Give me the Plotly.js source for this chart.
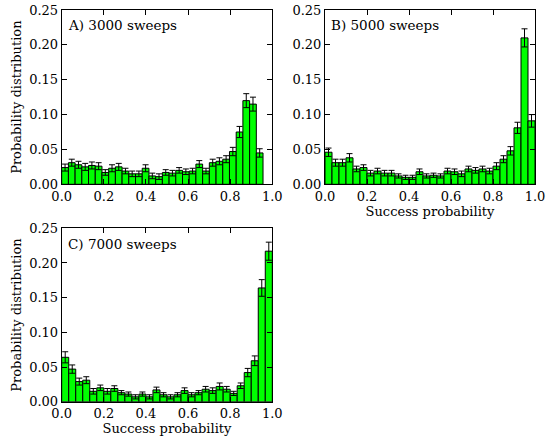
<!DOCTYPE html>
<html>
<head>
<meta charset="utf-8">
<script src="https://cdn.plot.ly/plotly-3.0.1.min.js"></script>
<style>html,body{margin:0;padding:0;background:#fff;}#chart{width:549px;height:436px;}</style>
</head>
<body>
<div id="chart"></div>
<script>
// Panel labels
const panelLabels = ["A) 3000 sweeps", "B) 5000 sweeps", "C) 7000 sweeps"];
// Upper edge of the histogram range in each panel (30 bins each)
const histMaxA = 0.956;
const histMaxB = 1.0;
const histMaxC = 1.0;
// Bin heights (probability distribution)
const valuesA = [0.024,0.031,0.028,0.025,0.027,0.026,0.017,0.023,0.025,0.019,0.015,0.015,0.023,0.012,0.011,0.017,0.016,0.020,0.018,0.019,0.029,0.019,0.031,0.033,0.036,0.047,0.075,0.120,0.115,0.045];
const errorsA = [0.005,0.005,0.005,0.005,0.005,0.005,0.004,0.005,0.005,0.004,0.004,0.004,0.005,0.004,0.004,0.004,0.004,0.004,0.004,0.004,0.005,0.004,0.005,0.005,0.005,0.006,0.008,0.010,0.010,0.006];
const valuesB = [0.046,0.031,0.031,0.038,0.022,0.024,0.016,0.019,0.016,0.016,0.012,0.010,0.010,0.018,0.012,0.013,0.012,0.019,0.018,0.015,0.022,0.020,0.022,0.019,0.026,0.036,0.048,0.081,0.210,0.091];
const errorsB = [0.006,0.005,0.005,0.006,0.004,0.004,0.004,0.004,0.004,0.004,0.003,0.003,0.003,0.004,0.003,0.003,0.003,0.004,0.004,0.004,0.004,0.004,0.004,0.004,0.005,0.005,0.006,0.008,0.013,0.009];
const valuesC = [0.064,0.047,0.029,0.031,0.015,0.020,0.015,0.019,0.013,0.011,0.007,0.011,0.007,0.017,0.010,0.007,0.010,0.016,0.010,0.013,0.018,0.016,0.022,0.018,0.012,0.023,0.042,0.059,0.164,0.217];
const errorsC = [0.008,0.006,0.005,0.005,0.004,0.004,0.004,0.004,0.003,0.003,0.003,0.003,0.003,0.004,0.003,0.003,0.003,0.004,0.003,0.003,0.004,0.004,0.005,0.004,0.003,0.004,0.006,0.007,0.012,0.013];
// Axis ticks
const xTicks = [0, 0.2, 0.4, 0.6, 0.8, 1.0];
const xTickText = ["0.0","0.2","0.4","0.6","0.8","1.0"];
const yTicks = [0, 0.05, 0.10, 0.15, 0.20, 0.25];
const yTickText = ["0.00","0.05","0.10","0.15","0.20","0.25"];
const xTitle = "Success probability";
const yTitle = "Probability distribution";

const FONT = "DejaVu Serif, Liberation Serif, serif";

function barTrace(vals, errs, hmax, xa, ya) {
  const n = vals.length;
  const w = hmax / n;
  const xs = vals.map((_, i) => (i + 0.5) * w);
  return {
    type: "bar", x: xs, y: vals, width: xs.map(() => w),
    xaxis: xa, yaxis: ya,
    marker: {color: "#00ff00", line: {color: "#000000", width: 1}},
    error_y: {type: "data", array: errs, visible: true, color: "#000000", thickness: 1, width: 3},
    showlegend: false, hoverinfo: "skip"
  };
}

const data = [
  barTrace(valuesA, errorsA, histMaxA, "x", "y"),
  barTrace(valuesB, errorsB, histMaxB, "x2", "y2"),
  barTrace(valuesC, errorsC, histMaxC, "x3", "y3")
];

function xax(domain, anchor, withTitle) {
  const a = {
    domain: domain, anchor: anchor, range: [0, 1],
    tickvals: xTicks, ticktext: xTickText,
    ticks: "inside", ticklen: 5, tickwidth: 1, tickcolor: "#000",
    showline: true, linecolor: "#000", linewidth: 1, mirror: "ticks",
    showgrid: false, zeroline: false,
    tickfont: {family: FONT, size: 13, color: "#000"}
  };
  if (withTitle) a.title = {text: xTitle, font: {family: FONT, size: 13, color: "#000"}, standoff: 2};
  return a;
}
function yax(domain, anchor, withTitle) {
  const a = {
    domain: domain, anchor: anchor, range: [0, 0.25],
    tickvals: yTicks, ticktext: yTickText,
    ticks: "inside", ticklen: 5, tickwidth: 1, tickcolor: "#000",
    showline: true, linecolor: "#000", linewidth: 1, mirror: "ticks",
    showgrid: false, zeroline: false,
    tickfont: {family: FONT, size: 13, color: "#000"}
  };
  if (withTitle) a.title = {text: yTitle, font: {family: FONT, size: 13, color: "#000"}, standoff: 4};
  return a;
}

const W = 549, H = 436;
const dxL = [61.7 / W, 272.3 / W];
const dxR = [325 / W, 535 / W];
const dyTop = [1 - 184.3 / H, 1 - 10 / H];
const dyBot = [1 - 401.7 / H, 1 - 228.3 / H];

function label(i, xa, ya) {
  return {text: panelLabels[i], xref: xa + " domain", yref: ya + " domain", x: 0.02, y: 0.97,
    xanchor: "left", yanchor: "top", showarrow: false, font: {family: FONT, size: 13.5, color: "#000"}};
}

const layout = {
  width: W, height: H,
  margin: {l: 0, r: 0, t: 0, b: 0},
  paper_bgcolor: "#fff", plot_bgcolor: "#fff",
  bargap: 0,
  xaxis: xax(dxL, "y", false),
  yaxis: yax(dyTop, "x", true),
  xaxis2: xax(dxR, "y2", true),
  yaxis2: yax(dyTop, "x2", false),
  xaxis3: xax(dxL, "y3", true),
  yaxis3: yax(dyBot, "x3", true),
  annotations: [label(0, "x", "y"), label(1, "x2", "y2"), label(2, "x3", "y3")]
};

Plotly.newPlot("chart", data, layout, {staticPlot: true, displayModeBar: false});
</script>
</body>
</html>
